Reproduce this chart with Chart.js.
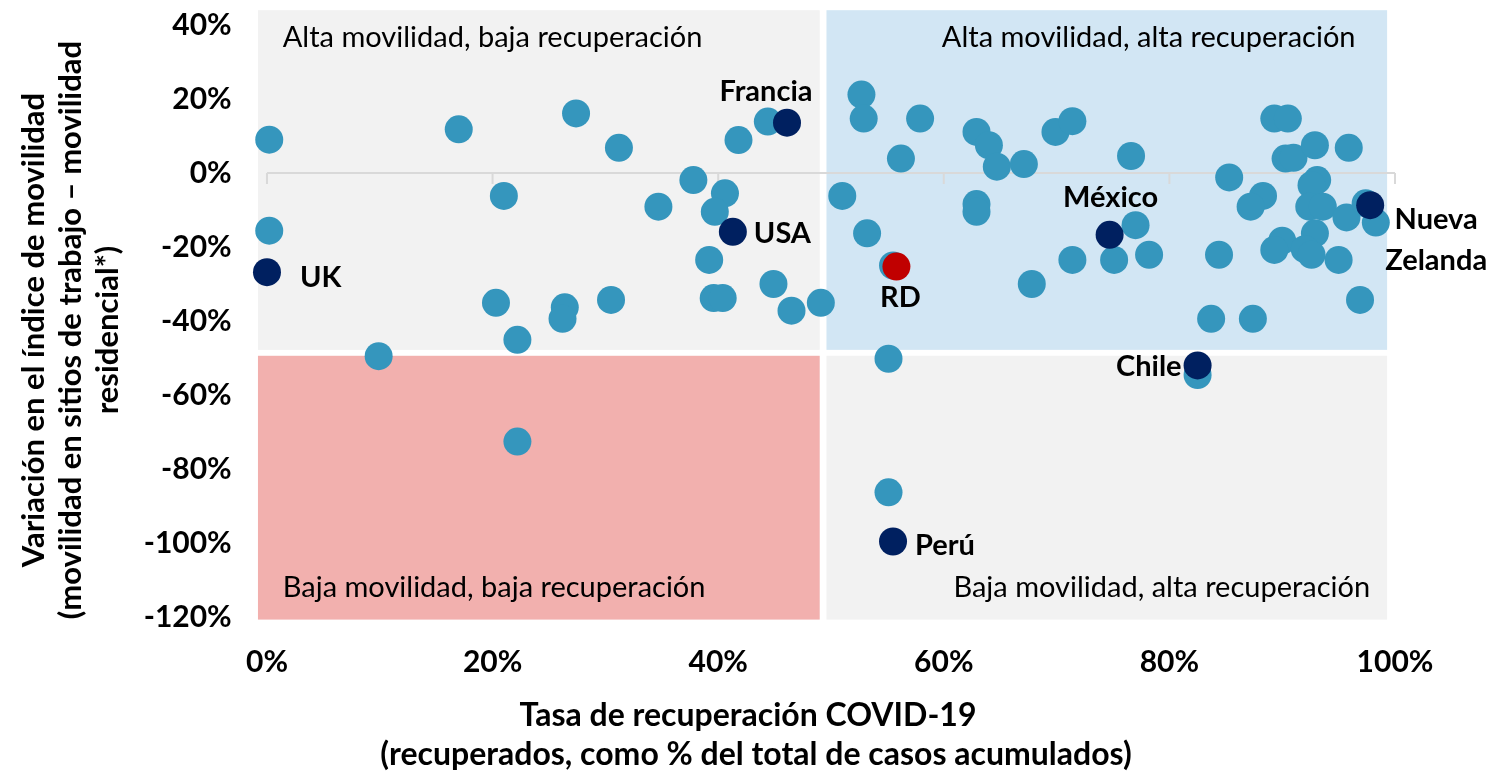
<!DOCTYPE html>
<html>
<head>
<meta charset="utf-8">
<script src="https://cdn.jsdelivr.net/npm/chart.js@4"></script>
<style>
  html, body { margin: 0; padding: 0; background: #fff; }
</style>
</head>
<body>
<canvas id="chart" width="1505" height="773"></canvas>
<script>
// x: tasa de recuperación (%), y: variación índice de movilidad (%)
const otherRecovery = [
  0.2, 17.0, 21.0, 0.2, 20.3, 22.2, 9.9, 27.4, 31.2, 44.4,
  41.8, 37.8, 34.7, 40.6, 39.7, 39.2, 39.6, 40.4, 44.9, 46.5,
  49.1, 26.4, 26.2, 30.5, 52.7, 52.9, 57.9, 56.2, 62.9, 64.0,
  64.7, 67.1, 69.9, 71.4, 51.0, 53.2, 55.5, 62.9, 62.9, 55.1,
  67.8, 71.4, 75.1, 76.6, 77.0, 78.2, 85.3, 88.3, 87.2, 84.4,
  83.7, 87.4, 89.3, 90.5, 90.3, 91.0, 92.9, 95.9, 93.1, 92.6,
  92.4, 93.6, 95.7, 97.4, 98.3, 92.9, 90.0, 89.3, 92.0, 92.6,
  95.0, 96.9, 82.5, 22.2, 55.1
]
const otherMobility = [
  9.0, 11.8, -6.2, -15.6, -35.1, -45.1, -49.5, 16.1, 6.8, 13.9,
  8.9, -1.9, -9.1, -5.5, -10.5, -23.5, -33.8, -33.8, -30.0, -37.2,
  -35.1, -36.3, -39.4, -34.3, 21.2, 14.7, 14.7, 3.9, 11.1, 7.5,
  1.7, 2.4, 11.1, 14.0, -6.2, -16.3, -25.0, -8.4, -10.5, -50.2,
  -30.0, -23.5, -23.5, 4.6, -14.1, -22.1, -1.2, -6.2, -9.1, -22.1,
  -39.4, -39.4, 14.7, 14.7, 3.9, 4.1, 7.5, 6.8, -1.9, -3.3,
  -9.1, -9.1, -12.0, -8.2, -13.4, -16.3, -18.3, -20.8, -20.6, -22.1,
  -23.5, -34.3, -54.6, -72.6, -86.3
]

const highlightNames = ['UK', 'USA', 'Francia', 'México', 'Chile', 'Perú', 'Nueva Zelanda']
const highlightRecovery = [0.0, 41.3, 46.1, 74.7, 82.5, 55.5, 97.8]
const highlightMobility = [-26.8, -15.9, 13.6, -16.7, -52.0, -99.6, -8.7]

const rdNames = ['RD']
const rdRecovery = [55.8]
const rdMobility = [-25.3]

const xTicks = [0, 20, 40, 60, 80, 100]
const yTicks = [-120, -100, -80, -60, -40, -20, 0, 20, 40]

const toPoints = (xs, ys) => xs.map((v, i) => ({ x: v, y: ys[i] }))

// cuadrantes (umbrales en unidades de datos)
const quadrants = [
  { x0: -0.8, x1: 49.0, y0: -47.8, y1: 44.0, color: '#f2f2f2' },
  { x0: 49.6, x1: 99.3, y0: -47.8, y1: 44.0, color: '#d2e6f4' },
  { x0: -0.8, x1: 49.0, y0: -120.7, y1: -49.4, color: '#f2b0ae' },
  { x0: 49.6, x1: 99.3, y0: -120.7, y1: -49.4, color: '#f2f2f2' },
]
const quadrantLabels = [
  { text: 'Alta movilidad, baja recuperación', x: 1.4, y: 36.5, align: 'left' },
  { text: 'Alta movilidad, alta recuperación', x: 96.5, y: 36.5, align: 'right' },
  { text: 'Baja movilidad, baja recuperación', x: 1.4, y: -112.2, align: 'left' },
  { text: 'Baja movilidad, alta recuperación', x: 97.8, y: -112.2, align: 'right' },
]

const labelPlacement = {
  'UK': { dx: 33, dy: 5, align: 'left' },
  'USA': { dx: 21, dy: 2, align: 'left' },
  'Francia': { dx: -21, dy: -31, align: 'center' },
  'México': { dx: 1, dy: -37, align: 'center' },
  'Chile': { dx: -16, dy: 1, align: 'right' },
  'Perú': { dx: 22, dy: 4, align: 'left' },
  'Nueva Zelanda': { dx: 66, dy: 14, align: 'center', lines: ['Nueva', 'Zelanda'] },
  'RD': { dx: 4, dy: 31, align: 'center' },
}

const backgroundPlugin = {
  id: 'quadrants',
  beforeDatasetsDraw(chart) {
    const { ctx, scales: { x, y } } = chart
    ctx.save()
    quadrants.forEach((q) => {
      const left = x.getPixelForValue(q.x0)
      const right = x.getPixelForValue(q.x1)
      const top = y.getPixelForValue(q.y1)
      const bottom = y.getPixelForValue(q.y0)
      ctx.fillStyle = q.color
      ctx.fillRect(left, top, right - left, bottom - top)
    })

    // eje horizontal en 0%
    const y0 = y.getPixelForValue(0)
    ctx.strokeStyle = '#d9d9d9'
    ctx.lineWidth = 2
    ctx.beginPath()
    ctx.moveTo(x.getPixelForValue(0), y0)
    ctx.lineTo(x.getPixelForValue(100), y0)
    xTicks.forEach((t) => {
      const px = x.getPixelForValue(t)
      ctx.moveTo(px, y0)
      ctx.lineTo(px, y0 + 11)
    })
    ctx.stroke()

    ctx.fillStyle = '#000'
    ctx.font = '29px Lato'
    ctx.textBaseline = 'middle'
    quadrantLabels.forEach((l) => {
      ctx.textAlign = l.align
      ctx.fillText(l.text, x.getPixelForValue(l.x), y.getPixelForValue(l.y))
    })
    ctx.restore()
  },
  afterDatasetsDraw(chart) {
    const { ctx } = chart
    ctx.save()
    ctx.fillStyle = '#000'
    ctx.font = 'bold 29px Lato'
    ctx.textBaseline = 'middle'
    chart.data.datasets.forEach((ds, di) => {
      if (!ds.names) return
      const meta = chart.getDatasetMeta(di)
      ds.names.forEach((name, i) => {
        const p = meta.data[i]
        const cfg = labelPlacement[name]
        ctx.textAlign = cfg.align
        const lines = cfg.lines || [name]
        lines.forEach((line, li) => {
          ctx.fillText(line, p.x + cfg.dx, p.y + cfg.dy + li * 41)
        })
      })
    })

    // títulos de ejes
    ctx.font = 'bold 32px Lato'
    ctx.textAlign = 'center'
    ctx.fillText('Tasa de recuperación COVID-19', 748, 716)
    ctx.fillText('(recuperados, como % del total de casos acumulados)', 756, 755)

    ctx.font = 'bold 31px Lato'
    const yTitle = [
      ['Variación en el índice de movilidad', 34],
      ['(movilidad en sitios de trabajo – movilidad', 71],
      ['residencial*)', 108],
    ]
    yTitle.forEach(([t, cx]) => {
      ctx.save()
      ctx.translate(cx, 330)
      ctx.rotate(-Math.PI / 2)
      ctx.fillText(t, 0, 0)
      ctx.restore()
    })
    ctx.restore()
  },
}

Chart.defaults.font.family = 'Lato'

new Chart(document.getElementById('chart'), {
  type: 'scatter',
  data: {
    datasets: [
      {
        data: toPoints(rdRecovery, rdMobility),
        names: rdNames,
        backgroundColor: '#c00000',
        pointRadius: 14,
        pointHoverRadius: 14,
        borderWidth: 0,
        clip: false,
        order: 1,
      },
      {
        data: toPoints(highlightRecovery, highlightMobility),
        names: highlightNames,
        backgroundColor: '#002060',
        pointRadius: 14,
        pointHoverRadius: 14,
        borderWidth: 0,
        clip: false,
        order: 2,
      },
      {
        data: toPoints(otherRecovery, otherMobility),
        backgroundColor: '#3596bd',
        pointRadius: 14,
        pointHoverRadius: 14,
        borderWidth: 0,
        clip: false,
        order: 3,
      },
    ],
  },
  options: {
    responsive: false,
    animation: false,
    layout: { autoPadding: false, padding: { left: 0, right: 110, top: 6.5, bottom: 0 } },
    plugins: {
      legend: { display: false },
      tooltip: { enabled: false },
    },
    scales: {
      x: {
        type: 'linear',
        min: -1,
        max: 100,
        grid: { display: false, drawTicks: false },
        border: { display: false },
        ticks: {
          color: '#000',
          font: { size: 30, weight: 'bold' },
          padding: 24,
          callback: (v) => v + '%',
        },
        afterBuildTicks: (s) => {
          s.ticks = xTicks.map((v) => ({ value: v }))
        },
        afterFit: (s) => {
          s.height = 152.3
          s.paddingLeft = 0
          s.paddingRight = 0
        },
      },
      y: {
        type: 'linear',
        min: -121,
        max: 45,
        grid: { display: false, drawTicks: false },
        border: { display: false },
        ticks: {
          color: '#000',
          font: { size: 30, weight: 'bold' },
          padding: 24,
          callback: (v) => v + '%',
        },
        afterBuildTicks: (s) => {
          s.ticks = yTicks.map((v) => ({ value: v }))
        },
        afterFit: (s) => {
          s.width = 255.7
          s.paddingTop = 0
          s.paddingBottom = 0
        },
      },
    },
  },
  plugins: [backgroundPlugin],
})
</script>
</body>
</html>
